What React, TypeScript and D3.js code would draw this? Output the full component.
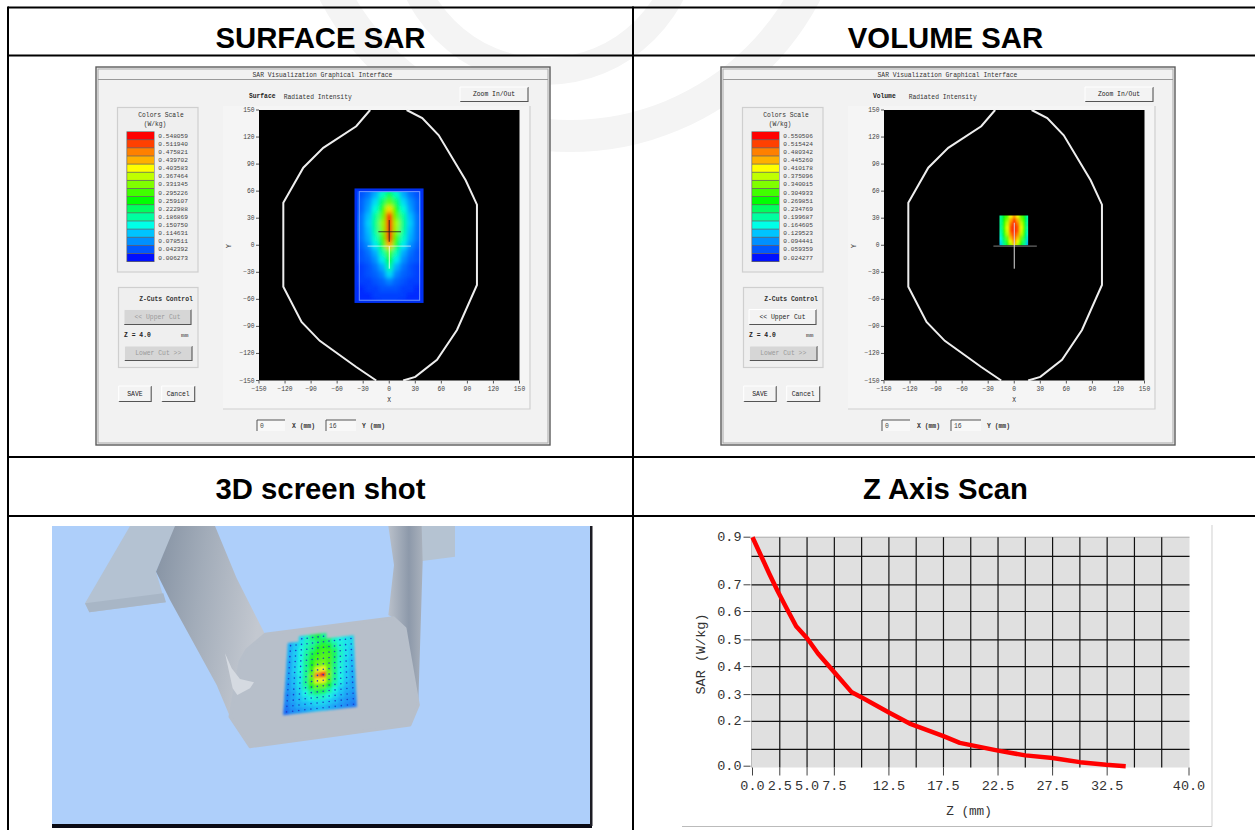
import * as d3 from 'd3';

// colour legend of the two SAR panels, top band first
const legendColors = ['#ff0000', '#ff4000', '#ff8000', '#ffb000', '#ffff00', '#c0ff00', '#80ff00', '#40ff00', '#00ff00', '#00ff60', '#00ffa0', '#00ffe8', '#00c4ff', '#0090ff', '#0058ff', '#0010ff'];
const surfaceLegend = [0.548059, 0.51194, 0.475821, 0.439702, 0.403583, 0.367464, 0.331345, 0.295226, 0.259107, 0.222988, 0.186869, 0.15075, 0.114631, 0.078511, 0.042392, 0.006273];
const volumeLegend = [0.550506, 0.515424, 0.480342, 0.44526, 0.410178, 0.375096, 0.340015, 0.304933, 0.269851, 0.234769, 0.199687, 0.164605, 0.129523, 0.094441, 0.059359, 0.024277];

// phantom outline in mm
const headOutline: [number, number][] = [[-22, 150], [-38, 132], [-76, 108], [-99, 86], [-122, 47], [-122, -46], [-101, -85], [-80, -106], [-38, -135], [-15, -150]];
const headOutlineRight: [number, number][] = [[16, -150], [30, -146], [55, -127], [78, -94], [101, -44], [101, 45], [88, 72], [57, 122], [38, 141], [20, 150]];

// surface scan, W/kg, x -40..40 step 8, y 64..-64 step 8
const surfaceX = [-40, -32, -24, -16, -8, 0, 8, 16, 24, 32, 40];
const surfaceY = [64, 56, 48, 40, 32, 24, 16, 8, 0, -8, -16, -24, -32, -40, -48, -56, -64];
const surfaceGrid = [
  [.03, .04, .05, .08, .11, .14, .11, .08, .05, .04, .03],
  [.03, .04, .06, .10, .17, .23, .17, .10, .06, .04, .03],
  [.03, .05, .08, .13, .22, .31, .22, .13, .08, .05, .03],
  [.03, .05, .09, .16, .27, .42, .27, .16, .09, .05, .03],
  [.03, .06, .11, .19, .31, .60, .31, .19, .11, .06, .03],
  [.04, .06, .12, .20, .34, .72, .35, .20, .12, .06, .04],
  [.04, .06, .11, .19, .33, .78, .34, .19, .11, .06, .04],
  [.03, .06, .10, .17, .29, .68, .29, .17, .10, .06, .03],
  [.03, .05, .08, .14, .24, .44, .24, .14, .08, .05, .03],
  [.03, .04, .06, .10, .18, .30, .18, .10, .06, .04, .03],
  [.03, .04, .05, .08, .14, .25, .14, .08, .05, .04, .03],
  [.02, .03, .04, .06, .10, .19, .10, .06, .04, .03, .02],
  [.02, .03, .04, .05, .07, .13, .07, .05, .04, .03, .02],
  [.02, .03, .03, .04, .05, .07, .05, .04, .03, .03, .02],
  [.02, .02, .03, .03, .04, .04, .04, .03, .03, .02, .02],
  [.02, .02, .02, .03, .03, .03, .03, .03, .02, .02, .02],
  [.02, .02, .02, .02, .03, .03, .03, .02, .02, .02, .02],
];

// volume scan, W/kg, x -16..16 step 4, y 32..0 step 4
const volumeX = [-16, -12, -8, -4, 0, 4, 8, 12, 16];
const volumeY = [32, 28, 24, 20, 16, 12, 8, 4, 0];
const volumeGrid = [
  [.19, .25, .31, .40, .46, .40, .31, .25, .17],
  [.19, .26, .34, .44, .51, .44, .34, .26, .17],
  [.19, .27, .37, .48, .55, .48, .37, .27, .17],
  [.19, .28, .39, .50, .58, .50, .39, .28, .17],
  [.18, .27, .38, .50, .58, .50, .38, .27, .16],
  [.17, .25, .36, .47, .56, .47, .36, .25, .15],
  [.15, .23, .32, .43, .52, .43, .32, .23, .13],
  [.13, .21, .29, .39, .48, .39, .29, .21, .11],
  [.11, .19, .26, .35, .43, .35, .26, .19, .09],
];

// points measured on the phantom screenshot (crop coordinates)
const leftFin: [number, number][] = [[240, 3], [105, 235], [118, 262], [345, 232], [318, 140], [378, 3]];
const leftFinEdge: [number, number][] = [[105, 235], [118, 262], [348, 232], [340, 205]];
const leftTube: [number, number][] = [[375, 3], [495, 3], [560, 160], [645, 328], [590, 375], [570, 410], [540, 575], [500, 480], [360, 225], [318, 140]];
const plate: [number, number][] = [[645, 328], [1030, 278], [1065, 310], [1105, 540], [1080, 600], [600, 665], [540, 575], [570, 410], [590, 375]];
const rightTube: [number, number][] = [[1015, 3], [1115, 3], [1118, 110], [1105, 530], [1065, 310], [1030, 278], [1015, 270], [1032, 120]];
const rightFin: [number, number][] = [[1080, 78], [1112, 3], [1215, 3], [1215, 95], [1088, 112], [1074, 85]];
const bump: [number, number][] = [[525, 385], [545, 430], [570, 462], [612, 472], [600, 490], [562, 510], [548, 490]];
const scanCorners = { tl: [715, 338], tr: [910, 315], br: [920, 545], bl: [700, 570] };
const scanGrid: (number | null)[][] = [
  [null, null, .13, .17, .22, .24, .20, null, null, null, null, null],
  [.10, .12, .14, .17, .19, .22, .24, .22, .17, .15, .14, .13],
  [.10, .12, .15, .18, .21, .25, .27, .25, .20, .16, .14, .13],
  [.10, .12, .15, .19, .24, .27, .29, .28, .23, .17, .14, .12],
  [.09, .12, .15, .20, .25, .29, .30, .29, .23, .17, .14, .12],
  [.09, .12, .15, .20, .26, .31, .32, .29, .22, .16, .13, .11],
  [.09, .12, .15, .20, .28, .38, .40, .30, .21, .16, .13, .11],
  [.09, .11, .14, .20, .31, .47, .55, .32, .21, .15, .12, .10],
  [.08, .11, .14, .20, .29, .39, .41, .30, .20, .15, .12, .10],
  [.08, .10, .13, .18, .25, .31, .31, .25, .18, .14, .11, .09],
  [.07, .09, .12, .15, .19, .23, .23, .19, .15, .12, .10, .09],
  [.07, .09, .11, .13, .15, .17, .17, .15, .13, .11, .09, .08],
  [.06, .08, .10, .11, .12, .13, .13, .12, .11, .09, .08, .07],
  [.05, .07, .08, .09, .10, .11, .11, .10, .09, .08, .07, .06],
];

// Z axis scan
const zValues = [0, .77, 1.55, 2.3, 3.1, 4, 5, 6, 7.6, 9.1, 10.1, 12.5, 14.4, 17.5, 19, 22.5, 25, 27.5, 30, 32.4, 34.2];
const sarValues = [.9, .805, .738, .677, .614, .548, .506, .449, .375, .308, .287, .233, .192, .147, .123, .092, .064, .048, .024, .008, 0];
const zGridTicks = [2.5, 5, 7.5, 10, 12.5, 15, 17.5, 20, 22.5, 25, 27.5, 30, 32.5, 35, 37.5];
const zLabelTicks = [0, 2.5, 5, 7.5, 12.5, 17.5, 22.5, 27.5, 32.5, 40];
const sarGridTicks = [.1, .2, .3, .4, .5, .6, .7, .8];
const sarLabelTicks = [0, .2, .3, .4, .5, .6, .7, .9];

const axisTicks = [-150, -120, -90, -60, -30, 0, 30, 60, 90, 120, 150];

const mono = '"Liberation Mono", monospace';
const sans = '"Liberation Sans", Arial, sans-serif';

const sarColor = d3.scaleLinear<string>().domain(surfaceLegend).range(legendColors).clamp(true);
const cropLine = d3.line()
  .x(d => d3.scaleLinear([0, 1200], [50, 450])(d[0]))
  .y(d => d3.scaleLinear([0, 909], [525, 828])(d[1]));

function Button({ x, y, w, h, label, disabled = false }: { x: number; y: number; w: number; h: number; label: string; disabled?: boolean }) {
  return (
    <g>
      <rect x={x} y={y} width={w} height={h} rx={1.5} fill={disabled ? '#d6d6d6' : '#f3f3f3'} />
      <path d={`M${x},${y + h}H${x + w}V${y}`} fill="none" stroke="#555" strokeWidth={1.1} />
      <path d={`M${x},${y + h}V${y}H${x + w}`} fill="none" stroke={disabled ? '#eee' : '#fff'} strokeWidth={1} />
      <text x={x + w / 2} y={y + h / 2 + 2.2} textAnchor="middle" fontFamily={mono} fontSize={6.4} fill={disabled ? '#9a9a9a' : '#222'}>{label}</text>
    </g>
  );
}

function InputBox({ x, y, w, h, value }: { x: number; y: number; w: number; h: number; value: string }) {
  return (
    <g>
      <rect x={x} y={y} width={w} height={h} fill="#f8f8f8" />
      <path d={`M${x},${y + h}V${y}H${x + w}`} fill="none" stroke="#555" strokeWidth={1} />
      <text x={x + 3} y={y + 8} fontFamily={mono} fontSize={6.4} fill="#444">{value}</text>
    </g>
  );
}

function HeatCells({ id, xs, ys, grid, step, clip, blur }: { id: string; xs: (v: number) => number; ys: (v: number) => number; grid: { x: number[]; y: number[]; v: number[][] }; step: number; clip: number[]; blur: number }) {
  const pad = 10;
  return (
    <g>
      <defs>
        <clipPath id={`${id}-clip`}><rect x={clip[0]} y={clip[1]} width={clip[2] - clip[0]} height={clip[3] - clip[1]} /></clipPath>
        <filter id={`${id}-blur`} x="-30%" y="-30%" width="160%" height="160%"><feGaussianBlur stdDeviation={blur} /></filter>
      </defs>
      <g clipPath={`url(#${id}-clip)`}>
        <g filter={`url(#${id}-blur)`}>
          {grid.v.map((row, r) => row.map((v, c) => {
            let x0 = xs(grid.x[c] - step / 2), x1 = xs(grid.x[c] + step / 2);
            let y0 = ys(grid.y[r] + step / 2), y1 = ys(grid.y[r] - step / 2);
            // edge cells run past the clip so the blur does not fade at the border
            if (c === 0) x0 -= pad;
            if (c === row.length - 1) x1 += pad;
            if (r === 0) y0 -= pad;
            if (r === grid.v.length - 1) y1 += pad;
            return <rect key={`${r}-${c}`} x={x0} y={y0} width={x1 - x0 + .5} height={y1 - y0 + .5} fill={sarColor(v)} />;
          }))}
        </g>
      </g>
    </g>
  );
}

function SarPanel({ dx, mode, legend, upperEnabled }: { dx: number; mode: 'Surface' | 'Volume'; legend: number[]; upperEnabled: boolean }) {
  const id = mode.toLowerCase();
  const xs = d3.scaleLinear([-150, 150], [259 + dx, 519.5 + dx]);
  const ys = d3.scaleLinear([-150, 150], [380.5, 110]);
  const outline = d3.line().x(d => xs(d[0])).y(d => ys(d[1]));
  const fmt = d3.format('.6f');
  const swatchY = d3.scaleBand<number>().domain(d3.range(legend.length)).range([131.7, 261.7]);
  return (
    <g>
      <rect x={96 + dx} y={67} width={454} height={378} fill="#f2f2f2" stroke="#5c5c5c" strokeWidth={1.4} />
      <rect x={98 + dx} y={69} width={450} height={374} fill="none" stroke="#a8a8a8" strokeWidth={1} />
      <line x1={98 + dx} x2={548 + dx} y1={79.5} y2={79.5} stroke="#9a9a9a" strokeWidth={1} />
      <text x={322.5 + dx} y={76.8} textAnchor="middle" fontFamily={mono} fontSize={6.3} fill="#333">SAR Visualization Graphical Interface</text>
      <text x={(mode === 'Surface' ? 249 : 248) + dx} y={98} fontFamily={mono} fontSize={6.3} fontWeight="bold" fill="#222">{mode}</text>
      <text x={283.7 + dx} y={99} fontFamily={mono} fontSize={6.3} fill="#333">Radiated Intensity</text>
      <Button x={460 + dx} y={87} w={68} h={14.5} label="Zoom In/Out" />

      {/* colour legend */}
      <rect x={117.5 + dx} y={107.5} width={80.5} height={164.5} fill="#efefef" stroke="#cfcfcf" strokeWidth={1.2} />
      <text x={161 + dx} y={116.5} textAnchor="middle" fontFamily={mono} fontSize={6.3} fill="#333">Colors Scale</text>
      <text x={155 + dx} y={125.5} textAnchor="middle" fontFamily={mono} fontSize={6.3} fill="#333">(W/kg)</text>
      <rect x={126.5 + dx} y={131.4} width={28} height={130.6} fill="#666" />
      {legend.map((v, i) => (
        <g key={i}>
          <rect x={127.2 + dx} y={swatchY(i)! + .3} width={26.8} height={swatchY.bandwidth() - .8} fill={legendColors[i]} />
          <text x={158.3 + dx} y={swatchY(i)! + 6} fontFamily={mono} fontSize={6.2} fill="#444">{fmt(v)}</text>
        </g>
      ))}

      {/* z cuts */}
      <rect x={118.5 + dx} y={287.5} width={79.5} height={80} fill="#efefef" stroke="#cfcfcf" strokeWidth={1.2} />
      <text x={166 + dx} y={300.5} textAnchor="middle" fontFamily={mono} fontSize={6.4} fontWeight="bold" fill="#333">Z-Cuts Control</text>
      <Button x={124 + dx} y={309.5} w={67} h={15} label="<< Upper Cut" disabled={!upperEnabled} />
      <text x={124 + dx} y={336.5} fontFamily={mono} fontSize={6.4} fontWeight="bold" fill="#222">Z = 4.0</text>
      <text x={181 + dx} y={336.5} fontFamily={mono} fontSize={6.2} fill="#333">mm</text>
      <Button x={124.5 + dx} y={346} w={67.5} h={14.5} label="Lower Cut >>" disabled />
      <Button x={118.7 + dx} y={386} w={32.5} h={15.5} label="SAVE" />
      <Button x={161.7 + dx} y={386} w={33} h={15.5} label="Cancel" />

      {/* plot */}
      <rect x={223 + dx} y={106} width={307} height={303} fill="#f5f5f5" />
      <path d={`M${223 + dx},409H${530 + dx}V106`} fill="none" stroke="#d0d0d0" strokeWidth={1.2} />
      <rect x={xs(-150)} y={ys(150)} width={xs(150) - xs(-150)} height={ys(-150) - ys(150)} fill="#000" />
      {axisTicks.map(t => (
        <g key={t}>
          <line x1={xs(t)} x2={xs(t)} y1={ys(-150)} y2={ys(-150) + 3} stroke="#555" />
          <text x={xs(t)} y={391} textAnchor="middle" fontFamily={mono} fontSize={6.3} fill="#444">{String(t).replace('-', '−')}</text>
          <line x1={xs(-150) - 3} x2={xs(-150)} y1={ys(t)} y2={ys(t)} stroke="#555" />
          <text x={xs(-150) - 4.5} y={ys(t) + 2} textAnchor="end" fontFamily={mono} fontSize={6.3} fill="#444">{String(t).replace('-', '−')}</text>
        </g>
      ))}
      <text x={xs(0)} y={402} textAnchor="middle" fontFamily={mono} fontSize={6.3} fill="#333">X</text>
      <text transform={`translate(${231 + dx},246) rotate(-90)`} textAnchor="middle" fontFamily={mono} fontSize={6.3} fill="#333">Y</text>

      {/* heat map and crosshairs */}
      {mode === 'Surface' ? (
        <g>
          <rect x={xs(-40)} y={ys(63)} width={xs(39.5) - xs(-40)} height={ys(-64) - ys(63)} fill="#0030f0" />
          <HeatCells id={id} xs={xs} ys={ys} grid={{ x: surfaceX, y: surfaceY, v: surfaceGrid }} step={8} clip={[xs(-37), ys(60), xs(36.5), ys(-61)]} blur={2.2} />
          <rect x={xs(-34.5)} y={ys(59.5)} width={xs(35) - xs(-34.5)} height={ys(-61) - ys(59.5)} fill="none" stroke="#6f96ff" strokeWidth={1} />
          <line x1={xs(-25)} x2={xs(25)} y1={ys(-1)} y2={ys(-1)} stroke="#fff" strokeOpacity={.5} strokeWidth={1.2} />
          <line x1={xs(0)} x2={xs(0)} y1={ys(-1)} y2={ys(-26)} stroke="#fff" strokeOpacity={.85} strokeWidth={1} />
          <line x1={xs(-12.5)} x2={xs(13.5)} y1={ys(15)} y2={ys(15)} stroke="#222" strokeOpacity={.75} strokeWidth={1.1} />
          <line x1={xs(0)} x2={xs(0)} y1={ys(28)} y2={ys(4)} stroke="#222" strokeOpacity={.75} strokeWidth={1.1} />
        </g>
      ) : (
        <g>
          <HeatCells id={id} xs={xs} ys={ys} grid={{ x: volumeX, y: volumeY, v: volumeGrid }} step={4} clip={[xs(-17), ys(33), xs(16), ys(0)]} blur={1} />
          <line x1={xs(-24)} x2={xs(26)} y1={ys(-1)} y2={ys(-1)} stroke="#666" strokeWidth={1.2} />
          <line x1={xs(0)} x2={xs(0)} y1={ys(25)} y2={ys(-26)} stroke="#ddd" strokeWidth={1} />
        </g>
      )}
      <path d={outline(headOutline)!} fill="none" stroke="#eee" strokeWidth={2} />
      <path d={outline(headOutlineRight)!} fill="none" stroke="#eee" strokeWidth={2} />

      {/* cursor readout */}
      <InputBox x={257 + dx} y={420} w={28} h={11} value="0" />
      <text x={292 + dx} y={427.5} fontFamily={mono} fontSize={6.4} fontWeight="bold" fill="#333">X (mm)</text>
      <InputBox x={326 + dx} y={420} w={30} h={11} value="16" />
      <text x={362 + dx} y={427.5} fontFamily={mono} fontSize={6.4} fontWeight="bold" fill="#333">Y (mm)</text>
    </g>
  );
}

function PhantomShot() {
  const { tl, tr, br, bl } = scanCorners;
  const rows = scanGrid.length, cols = scanGrid[1].length;
  // position on the tilted scan plane, u/v in grid steps
  const plane = (u: number, v: number): [number, number] => {
    const left = [d3.scaleLinear([0, rows], [tl[0], bl[0]])(v), d3.scaleLinear([0, rows], [tl[1], bl[1]])(v)];
    const right = [d3.scaleLinear([0, rows], [tr[0], br[0]])(v), d3.scaleLinear([0, rows], [tr[1], br[1]])(v)];
    return [d3.scaleLinear([0, cols], [left[0], right[0]])(u), d3.scaleLinear([0, cols], [left[1], right[1]])(u)];
  };
  const toPage = (p: [number, number]): [number, number] => [50 + p[0] / 3, 525 + p[1] / 3];
  return (
    <g>
      <defs>
        <linearGradient id="tube" x1="0" y1="0" x2="1" y2="0.25">
          <stop offset="0" stopColor="#8592a3" />
          <stop offset=".45" stopColor="#a2acb9" />
          <stop offset="1" stopColor="#c3c8d0" />
        </linearGradient>
        <linearGradient id="tubeR" x1="0" y1="0" x2="1" y2="0">
          <stop offset="0" stopColor="#b9c0ca" />
          <stop offset=".6" stopColor="#8d99aa" />
          <stop offset="1" stopColor="#a9b1bc" />
        </linearGradient>
        <filter id="scan-blur" x="-10%" y="-10%" width="120%" height="120%"><feGaussianBlur stdDeviation={1.3} /></filter>
      </defs>
      <rect x={52} y={526} width={539} height={298} fill="#aecffa" />
      <rect x={52} y={824} width={540} height={4} fill="#0a0a14" />
      <rect x={590} y={526} width={2.5} height={300} fill="#1c1c24" />
      <path d={cropLine(leftFin)! + 'Z'} fill="#b4c2d2" />
      <path d={cropLine(leftFinEdge)! + 'Z'} fill="#a8b6c6" />
      <path d={cropLine(leftTube)! + 'Z'} fill="url(#tube)" />
      <path d={cropLine(rightFin)! + 'Z'} fill="#b5c3d2" />
      <path d={cropLine(rightTube)! + 'Z'} fill="url(#tubeR)" />
      <path d={cropLine(plate)! + 'Z'} fill="#b7bfca" stroke="#b7bfca" strokeWidth={3} strokeLinejoin="round" />
      <path d={cropLine(bump)! + 'Z'} fill="#d5dae1" />
      <g filter="url(#scan-blur)" opacity={.85}>
        {scanGrid.map((row, r) => row.map((v, c) => {
          if (v === null) return null;
          const quad = [plane(c, r), plane(c + 1, r), plane(c + 1, r + 1), plane(c, r + 1)].map(toPage);
          return <path key={`${r}-${c}`} d={d3.line()(quad)! + 'Z'} fill={sarColor(v)} stroke={sarColor(v)} strokeWidth={.5} />;
        }))}
      </g>
      {scanGrid.map((row, r) => row.map((v, c) => {
        if (v === null) return null;
        const p = toPage(plane(c + .5, r + .5));
        return <circle key={`${r}-${c}`} cx={p[0]} cy={p[1]} r={.8} fill="#1c40c8" />;
      }))}
    </g>
  );
}

function ZScan() {
  const x = d3.scaleLinear([0, 40], [752.5, 1189]);
  const y = d3.scaleLinear([0, .1, .2, .3, .4, .5, .6, .7, .8, .9], [766.2, 749.3, 721.3, 694.6, 666.6, 639.9, 611.5, 584.8, 556.4, 537.2]);
  const line = d3.line<number>().x(d => x(d)).y((_, i) => y(sarValues[i]));
  const top = y(.9), bottom = 767.5;
  return (
    <g>
      <rect x={751.5} y={top} width={438} height={bottom - top} fill="#e0e0e0" />
      <line x1={751.5} x2={1189.5} y1={top} y2={top} stroke="#aaa" />
      <line x1={751.5} x2={751.5} y1={top} y2={bottom} stroke="#bbb" />
      {sarGridTicks.map(t => <line key={t} x1={751.5} x2={1189.5} y1={y(t)} y2={y(t)} stroke="#111" strokeWidth={1.2} />)}
      {zGridTicks.map(t => <line key={t} x1={x(t)} x2={x(t)} y1={top} y2={bottom} stroke="#111" strokeWidth={1.2} />)}
      {sarLabelTicks.map(t => (
        <g key={t}>
          <line x1={x(0) - 9} x2={x(0) - 2} y1={y(t)} y2={y(t)} stroke="#444" />
          <text x={x(0) - 11} y={y(t) + 4} textAnchor="end" fontFamily={mono} fontSize={13.5} fill="#333">{t.toFixed(1)}</text>
        </g>
      ))}
      {zLabelTicks.map(t => (
        <g key={t}>
          <line x1={x(t)} x2={x(t)} y1={bottom} y2={bottom + 8} stroke="#444" />
          <text x={x(t)} y={790} textAnchor="middle" fontFamily={mono} fontSize={13.5} fill="#333">{t.toFixed(1)}</text>
        </g>
      ))}
      <path d={line(zValues)!} fill="none" stroke="#ff0000" strokeWidth={4.5} strokeLinejoin="round" />
      <text x={969} y={815} textAnchor="middle" fontFamily={mono} fontSize={12.7} fill="#333">Z (mm)</text>
      <text transform="translate(705,654) rotate(-90)" textAnchor="middle" fontFamily={mono} fontSize={13.5} fill="#333">SAR (W/kg)</text>
      <line x1={682} x2={1212} y1={826.5} y2={826.5} stroke="#bbb" strokeWidth={1.2} />
      <line x1={1212} x2={1212} y1={525} y2={826.5} stroke="#d8d8d8" strokeWidth={1.2} />
    </g>
  );
}

export default function App() {
  const arc = d3.arc();
  const headers = [
    { text: 'SURFACE SAR', x: 320.5, y: 48 },
    { text: 'VOLUME SAR', x: 945.5, y: 48 },
    { text: '3D screen shot', x: 320.5, y: 499 },
    { text: 'Z Axis Scan', x: 945.5, y: 499 },
  ];
  return (
    <svg width={1255} height={830} style={{ position: 'absolute', left: 0, top: 0, background: '#fff' }}>
      {/* watermark behind the table */}
      <path transform="translate(570,-130)" fill="#f4f4f4" d={arc({ innerRadius: 250, outerRadius: 282, startAngle: Math.PI * .5, endAngle: Math.PI * 1.5 })!} />
      <path transform="translate(545,-70)" fill="#f4f4f4" d={arc({ innerRadius: 128, outerRadius: 155, startAngle: Math.PI * .5, endAngle: Math.PI * 1.5 })!} />

      <g stroke="#000" strokeWidth={2}>
        <line x1={8} x2={1255} y1={7.5} y2={7.5} />
        <line x1={8} x2={1255} y1={55.5} y2={55.5} />
        <line x1={8} x2={1255} y1={457} y2={457} />
        <line x1={8} x2={1255} y1={516} y2={516} />
        <line x1={8} x2={8} y1={6.5} y2={830} />
        <line x1={633} x2={633} y1={6.5} y2={830} />
      </g>
      {headers.map(h => (
        <text key={h.text} x={h.x} y={h.y} textAnchor="middle" fontFamily={sans} fontWeight="bold" fontSize={29.3} fill="#000">{h.text}</text>
      ))}
      <SarPanel dx={0} mode="Surface" legend={surfaceLegend} upperEnabled={false} />
      <SarPanel dx={625} mode="Volume" legend={volumeLegend} upperEnabled />
      <PhantomShot />
      <ZScan />
    </svg>
  );
}
